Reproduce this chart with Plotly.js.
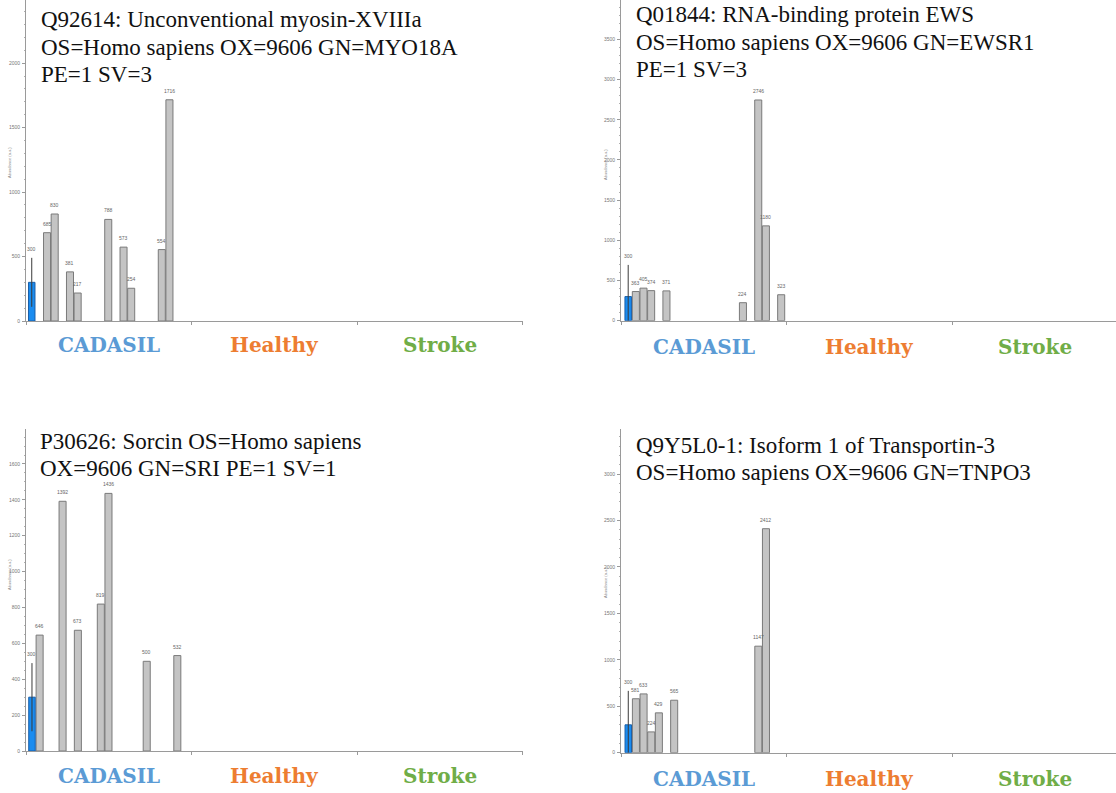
<!DOCTYPE html>
<html><head><meta charset="utf-8">
<script src="https://cdn.plot.ly/plotly-3.0.1.min.js"></script>
<style>html,body{margin:0;padding:0;background:#fff;}#chart{width:1116px;height:793px;}</style>
</head><body><div id="chart"></div>
<script>
// ---------- data ----------
const groups = ["CADASIL", "Healthy", "Stroke"];
const groupColors = ["#5b9bd5", "#ed7d31", "#70ad47"];
const yAxisTitle = "Abundance (a.u.)";

const p1Title = ["Q92614: Unconventional myosin-XVIIIa", "OS=Homo sapiens OX=9606 GN=MYO18A", "PE=1 SV=3"];
const p1Slots = [2, 3, 5, 6, 10, 12, 13, 17, 18];
const p1Values = [685, 830, 381, 217, 788, 573, 254, 554, 1716];
const p1Mean = 300, p1ErrPlus = 190, p1ErrMinus = 190;

const p2Title = ["Q01844: RNA-binding protein EWS", "OS=Homo sapiens OX=9606 GN=EWSR1", "PE=1 SV=3"];
const p2Slots = [1, 2, 3, 5, 15, 17, 18, 20];
const p2Values = [363, 405, 374, 371, 224, 2746, 1180, 323];
const p2Mean = 300, p2ErrPlus = 394, p2ErrMinus = 300;

const p3Title = ["P30626: Sorcin OS=Homo sapiens", "OX=9606 GN=SRI PE=1 SV=1"];
const p3Slots = [1, 4, 6, 9, 10, 15, 19];
const p3Values = [646, 1392, 673, 819, 1436, 500, 532];
const p3Mean = 300, p3ErrPlus = 190, p3ErrMinus = 190;

const p4Title = ["Q9Y5L0-1: Isoform 1 of Transportin-3", "OS=Homo sapiens OX=9606 GN=TNPO3"];
const p4Slots = [1, 2, 3, 4, 6, 17, 18];
const p4Values = [581, 633, 224, 429, 565, 1147, 2412];
const p4Mean = 300, p4ErrPlus = 366, p4ErrMinus = 300;

// ---------- layout helpers ----------
const W = 1116, H = 793;
const GROUP = 21.65;          // slots per group on the x axis
const SLOT_PX = 7.65;
const TITLE_SIZE = 23, TITLE_LINE = 27.5;
const px = v => v / W;
const py = v => 1 - v / H;
const SERIF = "'Liberation Serif', serif";
const SANS = "'Liberation Sans', Arial, sans-serif";

const panels = [
  {title: p1Title, slots: p1Slots, values: p1Values, mean: p1Mean, ep: p1ErrPlus, em: p1ErrMinus,
   xpx: [26, 523], ypx: [321, 0], ymax: 2490, dtick: 500, minor: 100, off: 0.75,
   tx: 39, tBase: 26.7, labelY: 345, ytY: 163, ytX: 9},
  {title: p2Title, slots: p2Slots, values: p2Values, mean: p2Mean, ep: p2ErrPlus, em: p2ErrMinus,
   xpx: [621, 1116], ypx: [320.7, 0], ymax: 3990, dtick: 500, minor: 100, off: 0.94,
   tx: 634, tBase: 21.5, labelY: 347, ytY: 165, ytX: 605},
  {title: p3Title, slots: p3Slots, values: p3Values, mean: p3Mean, ep: p3ErrPlus, em: p3ErrMinus,
   xpx: [26, 523], ypx: [751, 429], ymax: 1795, dtick: 200, minor: 50, off: 0.78,
   tx: 38, tBase: 448, labelY: 776, ytY: 575, ytX: 9},
  {title: p4Title, slots: p4Slots, values: p4Values, mean: p4Mean, ep: p4ErrPlus, em: p4ErrMinus,
   xpx: [621, 1116], ypx: [752.7, 428.6], ymax: 3490, dtick: 500, minor: 100, off: 0.95,
   tx: 634, tBase: 452, labelY: 779, ytY: 583, ytX: 605}
];

const traces = [];
const layout = {
  width: W, height: H,
  margin: {l: 0, r: 0, t: 0, b: 0},
  paper_bgcolor: "#ffffff", plot_bgcolor: "rgba(0,0,0,0)",
  showlegend: false,
  bargap: 0,
  annotations: []
};

panels.forEach((p, i) => {
  const n = i + 1;
  const xa = "x" + (n === 1 ? "" : n), ya = "y" + (n === 1 ? "" : n);
  const xKey = "xaxis" + (n === 1 ? "" : n), yKey = "yaxis" + (n === 1 ? "" : n);
  const xmin = -p.off;
  const span = (p.xpx[1] - p.xpx[0]) / SLOT_PX;
  const bounds = [xmin, xmin + GROUP, xmin + 2 * GROUP, xmin + 3 * GROUP].filter(b => b <= xmin + span + 0.01);

  layout[xKey] = {
    domain: [px(p.xpx[0]), px(p.xpx[1])],
    anchor: ya, range: [xmin, xmin + span],
    showgrid: false, zeroline: false,
    showline: true, linecolor: "#9a9a9a", linewidth: 1,
    tickmode: "array", tickvals: bounds, ticks: "outside", ticklen: 3, tickcolor: "#9a9a9a",
    showticklabels: false, fixedrange: true
  };
  layout[yKey] = {
    domain: [py(p.ypx[0]), py(p.ypx[1])],
    anchor: xa, range: [0, p.ymax],
    showgrid: false, zeroline: false,
    showline: true, linecolor: "#9a9a9a", linewidth: 1,
    tickmode: "linear", tick0: 0, dtick: p.dtick,
    ticks: "outside", ticklen: 3, tickcolor: "#9a9a9a",
    minor: {dtick: p.minor, ticks: "outside", ticklen: 1.5, tickcolor: "#b0b0b0"},
    tickfont: {family: SANS, size: 5, color: "#777"},
    ticklabelstandoff: 1, fixedrange: true
  };

  // sample bars
  traces.push({
    type: "bar", xaxis: xa, yaxis: ya,
    x: p.slots, y: p.values, width: 0.92,
    marker: {color: "#c4c4c4", line: {color: "#7a7a7a", width: 1}},
    hoverinfo: "x+y"
  });
  // group mean bar
  traces.push({
    type: "bar", xaxis: xa, yaxis: ya,
    x: [0], y: [p.mean], width: 0.85,
    marker: {color: "#1a8cf0", line: {color: "#1b5fa8", width: 1}},
    error_y: {type: "data", symmetric: false, array: [p.ep], arrayminus: [p.em],
              color: "#3a3a3a", thickness: 1, width: 0},
    hoverinfo: "x+y"
  });

  // value labels
  p.slots.forEach((s, k) => {
    layout.annotations.push({
      xref: xa, yref: ya, x: s, y: p.values[k], text: String(p.values[k]),
      showarrow: false, yanchor: "bottom", yshift: 4,
      font: {family: SANS, size: 5, color: "#666"}
    });
  });
  layout.annotations.push({
    xref: xa, yref: ya, x: 0, y: p.mean + p.ep, text: String(p.mean),
    showarrow: false, yanchor: "bottom", yshift: 4,
    font: {family: SANS, size: 5, color: "#666"}
  });

  // group labels
  groups.forEach((g, k) => {
    const cx = xmin + GROUP * (k + 0.5);
    if (cx > xmin + span) return;
    layout.annotations.push({
      xref: xa, yref: "paper", x: cx, y: py(p.labelY), text: "<b>" + g + "</b>",
      showarrow: false, xanchor: "center", yanchor: "middle",
      font: {family: "'DejaVu Serif', serif", size: 20, color: groupColors[k]}
    });
  });

  // protein title, one annotation per line (baseline -> top of text box)
  p.title.forEach((line, k) => {
    const baseline = p.tBase + k * TITLE_LINE;
    const top = baseline - 1 - 0.891 * TITLE_SIZE;
    layout.annotations.push({
      xref: "paper", yref: "paper", x: px(p.tx), y: py(top),
      text: line, align: "left",
      showarrow: false, xanchor: "left", yanchor: "top",
      font: {family: SERIF, size: TITLE_SIZE, color: "#111"}
    });
  });

  // y axis title
  layout.annotations.push({
    xref: "paper", yref: "paper", x: px(p.ytX), y: py(p.ytY),
    text: yAxisTitle, textangle: -90, showarrow: false,
    xanchor: "center", yanchor: "middle",
    font: {family: SANS, size: 4, color: "#888"}
  });
});

Plotly.newPlot("chart", traces, layout, {displayModeBar: false, staticPlot: true});
</script>
</body></html>
